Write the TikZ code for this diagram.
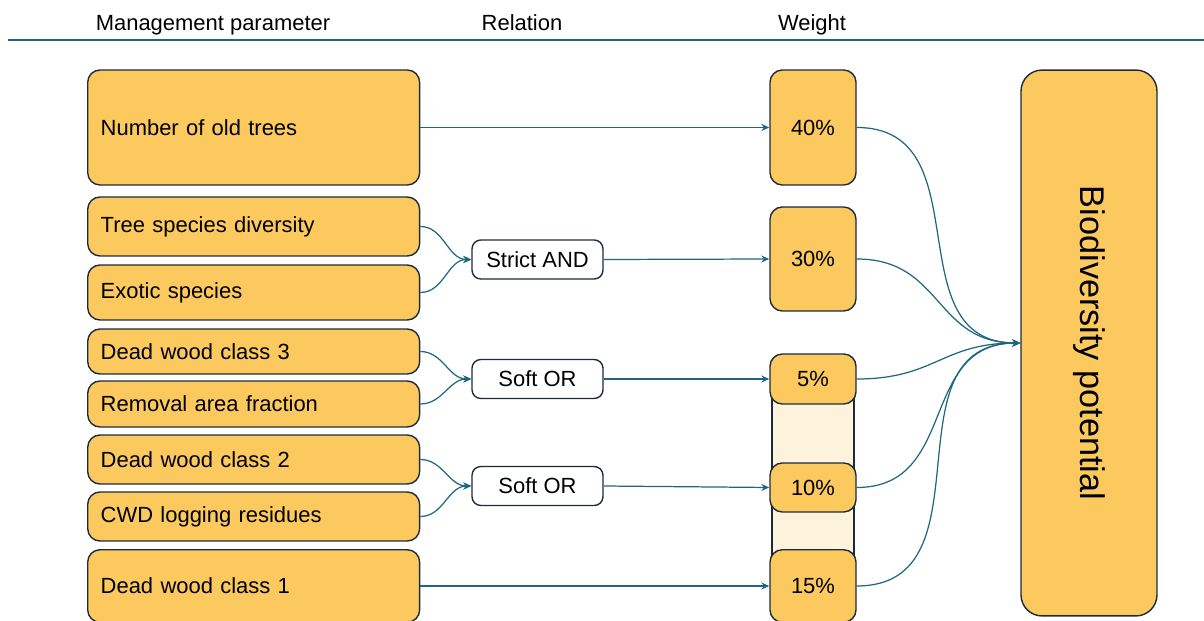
\documentclass[tikz,border=0pt]{standalone}
\usepackage{fontspec}
\setmainfont{Liberation Sans}
\usepackage{xcolor}
\usetikzlibrary{arrows.meta, positioning}
\definecolor{BP_FILL}{HTML}{FBC95E}
\definecolor{BP_LINE}{HTML}{1C2B3C}
\definecolor{BP_TEAL}{HTML}{1F6680}
\definecolor{BP_CREAM}{HTML}{FDF2DC}
\tikzset{
  param/.style={
    rectangle, rounded corners=7pt, anchor=west,
    text width=6.12cm, inner xsep=0.26cm, align=left,
    draw=BP_LINE, fill=BP_FILL, line width=0.8pt,
    font=\fontsize{12.5}{15}\selectfont},
  rel/.style={
    rectangle, rounded corners=5pt,
    minimum width=2.62cm, minimum height=0.78cm,
    text centered, align=center,
    draw=BP_LINE, fill=white, line width=0.8pt,
    font=\fontsize{12.5}{15}\selectfont},
  wgt/.style={
    rectangle, rounded corners=7pt,
    minimum width=1.72cm,
    text centered, align=center,
    draw=BP_LINE, fill=BP_FILL, line width=0.8pt,
    font=\fontsize{12.5}{15}\selectfont},
  goal/.style={
    rectangle, rounded corners=12pt,
    minimum width=2.72cm, minimum height=10.92cm,
    draw=BP_LINE, fill=BP_FILL, line width=0.8pt,
    font=\fontsize{19.5}{22}\selectfont},
  head/.style={anchor=base, font=\fontsize{12.5}{15}\selectfont},
  arr/.style={-{Stealth[length=1.6mm,width=1.4mm]}, line width=0.7pt, color=BP_TEAL},
}

\begin{document}
\begin{tikzpicture}[x=0.02cm, y=-0.02cm]
  \useasboundingbox (0,0) rectangle (1204,621);

  % column headers
  \node[head] (hpar) at (213,31) {Management parameter};
  \node[head] (hrel) at (522,31) {Relation};
  \node[head] (hwgt) at (812,31) {Weight};
  \draw[BP_TEAL, line width=1pt] (8,40) -- (1204,40);

  % management parameters
  \node[param, minimum height=2.3cm]  (old) at (87,127.5) {Number of old trees};
  \node[param, minimum height=1.18cm] (div) at (87,226.5) {Tree species diversity};
  \node[param, minimum height=1.1cm]  (exo) at (87,292.5) {Exotic species};
  \node[param, minimum height=0.9cm]  (dw3) at (87,351.5) {Dead wood class 3};
  \node[param, minimum height=0.92cm] (raf) at (87,404)   {Removal area fraction};
  \node[param, minimum height=0.98cm] (dw2) at (87,459.5) {Dead wood class 2};
  \node[param, minimum height=0.98cm] (cwd) at (87,516.5) {CWD logging residues};
  \node[param, minimum height=1.45cm] (dw1) at (87,586)   {Dead wood class 1};

  % relations
  \node[rel] (and) at (537.5,259.5) {Strict AND};
  \node[rel] (or1) at (537.5,379)   {Soft OR};
  \node[rel] (or2) at (537.5,486)   {Soft OR};

  % weights, the lower three sit on a light strip
  \draw[BP_LINE, fill=BP_CREAM, line width=0.8pt] (772,395) rectangle (854,560);
  \node[wgt, minimum height=2.3cm]  (w40) at (813,127.5) {40\%};
  \node[wgt, minimum height=2.08cm] (w30) at (813,259)   {30\%};
  \node[wgt, minimum height=1.0cm]  (w5)  at (813,379)   {5\%};
  \node[wgt, minimum height=0.98cm] (w10) at (813,487.5) {10\%};
  \node[wgt, minimum height=1.45cm] (w15) at (813,586)   {15\%};

  \node[goal] (bio) at (1089,343) {};
  \node[rotate=-90, font=\fontsize{19.5}{22}\selectfont] (biotxt) at (bio.center) {Biodiversity potential};

  % parameters -> relations -> weights
  \draw[arr] (old.east) -- (w40.west);
  \draw[arr] (div.east) to[out=0, in=180] (and.west);
  \draw[arr] (exo.east) to[out=0, in=180] (and.west);
  \draw[arr] (and.east) -- (w30.west);
  \draw[arr] (dw3.east) to[out=0, in=180] (or1.west);
  \draw[arr] (raf.east) to[out=0, in=180] (or1.west);
  \draw[arr] (or1.east) -- (w5.west);
  \draw[arr] (dw2.east) to[out=0, in=180] (or2.west);
  \draw[arr] (cwd.east) to[out=0, in=180] (or2.west);
  \draw[arr] (or2.east) -- (w10.west);
  \draw[arr] (dw1.east) -- (w15.west);

  % weights -> biodiversity potential
  \foreach \w in {w40, w30, w5, w10, w15}
    \draw[arr] (\w.east) to[out=0, in=180, looseness=1.2] (bio.west);

\end{tikzpicture}
\end{document}
